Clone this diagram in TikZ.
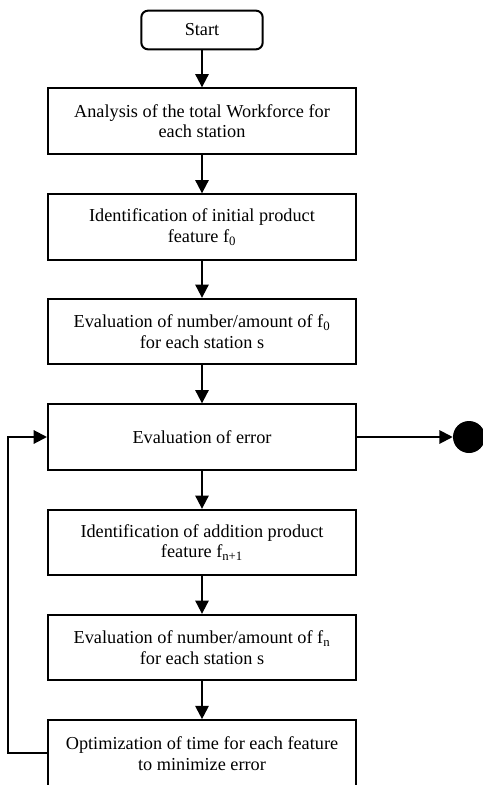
\documentclass[tikz,border=0pt]{standalone}
\usepackage{fontspec}
\setmainfont{Liberation Serif}
\usepackage{tikz}
\usetikzlibrary{arrows.meta}

\tikzset{
    stepbox/.style={draw, line width=1.5pt, minimum width=231pt, minimum height=49pt, align=center, inner sep=2pt, font=\fontsize{13.7}{15.5}\selectfont},
    startbox/.style={draw, line width=1.5pt, rounded corners=5pt, minimum width=91pt, minimum height=29pt, font=\fontsize{13.7}{15.5}\selectfont},
    flow/.style={line width=1.5pt, -{Triangle[length=10pt,width=10pt]}}
}

\begin{document}
\begin{tikzpicture}[x=0.75pt, y=-0.75pt]
            \useasboundingbox (0,0) rectangle (482,785);
            \node[startbox] (start) at (202,30) {Start};
            \node[stepbox] (workforce) at (202,121) {Analysis of the total Workforce for\\each station};
            \node[stepbox] (initfeat) at (202,227) {Identification of initial product\\feature f\textsubscript{0}};
            \node[stepbox] (evalinit) at (202,331.5) {Evaluation of number/amount of f\textsubscript{0}\\for each station s};
            \node[stepbox] (evalerr) at (202,437) {Evaluation of error};
            \node[stepbox] (addfeat) at (202,542.5) {Identification of addition product\\feature f\textsubscript{n+1}};
            \node[stepbox] (evaladd) at (202,647.5) {Evaluation of number/amount of f\textsubscript{n}\\for each station s};
            \node[stepbox, minimum height=50pt] (optim) at (202,753.5) {Optimization of time for each feature\\to minimize error};
            \node[circle, fill=black, minimum size=24pt, inner sep=0pt] (stop) at (469,437) {};
            \coordinate (loop) at (8,753);
            % main flow
            \draw[flow] (start) -- (workforce);
            \draw[flow] (workforce) -- (initfeat);
            \draw[flow] (initfeat) -- (evalinit);
            \draw[flow] (evalinit) -- (evalerr);
            \draw[flow] (evalerr) -- (addfeat);
            \draw[flow] (addfeat) -- (evaladd);
            \draw[flow] (evaladd) -- (optim);
            \draw[flow] (evalerr.east) -- (stop.west);
            % feedback
            \draw[flow] (optim.west |- loop) -- (loop) |- (evalerr.west);
        \end{tikzpicture}
\end{document}
